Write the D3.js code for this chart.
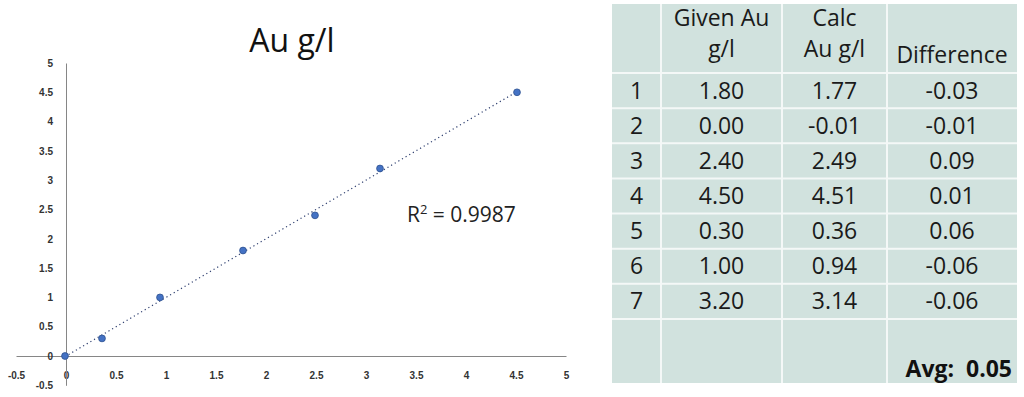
<!DOCTYPE html>
<html>
<head>
<meta charset="utf-8">
<script src="https://cdn.jsdelivr.net/npm/d3@7"></script>
<style>
  body { margin: 0; background: #fff; }
  svg { display: block; }
</style>
</head>
<body>
<div id="chart"></div>
<script>
// Data
const rowIds = ["1", "2", "3", "4", "5", "6", "7"];
const givenAu = [1.80, 0.00, 2.40, 4.50, 0.30, 1.00, 3.20];
const calcAu = [1.77, -0.01, 2.49, 4.51, 0.36, 0.94, 3.14];
const difference = [-0.03, -0.01, 0.09, 0.01, 0.06, -0.06, -0.06];
const headerLines = [[""], ["Given Au", "g/l"], ["Calc", "Au g/l"], ["Difference"]];
const avgLabel = "Avg:  0.05";
const xTicks = [-0.5, 0, 0.5, 1, 1.5, 2, 2.5, 3, 3.5, 4, 4.5, 5];
const yTicks = [-0.5, 0, 0.5, 1, 1.5, 2, 2.5, 3, 3.5, 4, 4.5, 5];
const chartTitle = "Au g/l";
const rSquared = "0.9987";

const width = 1024;
const height = 397;

const svg = d3.select("#chart").append("svg")
  .attr("width", width)
  .attr("height", height);

// Scatter chart
const x = d3.scaleLinear().domain([-0.5, 5]).range([16, 566]);
const y = d3.scaleLinear().domain([-0.5, 5]).range([385.3, 63]);
const fmt = d => String(d);

const xAxis = svg.append("g")
  .attr("transform", `translate(0,${y(0)})`)
  .call(d3.axisBottom(x).tickValues(xTicks).tickFormat(fmt).tickSize(0).tickPadding(16));

const yAxis = svg.append("g")
  .attr("transform", `translate(${x(0)},0)`)
  .call(d3.axisLeft(y).tickValues(yTicks).tickFormat(fmt).tickSize(0).tickPadding(13));

[xAxis, yAxis].forEach(g => {
  g.select(".domain").attr("stroke", "#868686").attr("stroke-width", 1);
  g.selectAll("text")
    .attr("fill", "#333")
    .style("font-family", "'Liberation Sans', Arial, sans-serif")
    .style("font-size", "10px")
    .style("font-weight", "bold");
});

svg.append("text")
  .attr("x", 292)
  .attr("y", 52)
  .attr("text-anchor", "middle")
  .attr("fill", "#111")
  .style("font-family", "'Open Sans', sans-serif")
  .style("font-size", "32px")
  .text(chartTitle);

// Linear trendline (least squares)
const pts = calcAu.map((c, i) => [c, givenAu[i]]);
const mx = d3.mean(calcAu), my = d3.mean(givenAu);
const slope = d3.sum(pts, p => (p[0] - mx) * (p[1] - my)) / d3.sum(pts, p => (p[0] - mx) ** 2);
const icpt = my - slope * mx;
const [x0, x1] = d3.extent(calcAu);

svg.append("line")
  .attr("x1", x(x0)).attr("y1", y(icpt + slope * x0))
  .attr("x2", x(x1)).attr("y2", y(icpt + slope * x1))
  .attr("stroke", "#2c3d6e")
  .attr("stroke-width", 1.2)
  .attr("stroke-dasharray", "1.2,3");

svg.selectAll("circle.pt")
  .data(pts)
  .join("circle")
  .attr("class", "pt")
  .attr("cx", d => x(d[0]))
  .attr("cy", d => y(d[1]))
  .attr("r", 3.4)
  .attr("fill", "#4472c4")
  .attr("stroke", "#2f528f")
  .attr("stroke-width", 0.8);

const rText = svg.append("text")
  .attr("x", 407)
  .attr("y", 222)
  .attr("fill", "#222")
  .style("font-family", "'Open Sans', sans-serif")
  .style("font-size", "21px");
rText.append("tspan").text("R");
rText.append("tspan").attr("dy", -8).style("font-size", "13px").text("2");
rText.append("tspan").attr("dy", 8).text(" = " + rSquared);

// Table
const colEdges = [612, 661, 782, 887, 1017];
const rowEdges = [4, 73];
const rowH = (319 - 73) / rowIds.length;
rowIds.forEach((_, i) => rowEdges.push(73 + rowH * (i + 1)));
rowEdges.push(383);

const table = svg.append("g");
table.append("rect")
  .attr("x", colEdges[0]).attr("y", rowEdges[0])
  .attr("width", colEdges[4] - colEdges[0])
  .attr("height", rowEdges[rowEdges.length - 1] - rowEdges[0])
  .attr("fill", "#d1e2de");

table.selectAll("line.v")
  .data(colEdges.slice(1, -1))
  .join("line")
  .attr("x1", d => d).attr("x2", d => d)
  .attr("y1", rowEdges[0]).attr("y2", rowEdges[rowEdges.length - 1])
  .attr("stroke", "#f4f8f7").attr("stroke-width", 2);

table.selectAll("line.h")
  .data(rowEdges.slice(1, -1))
  .join("line")
  .attr("x1", colEdges[0]).attr("x2", colEdges[4])
  .attr("y1", d => d).attr("y2", d => d)
  .attr("stroke", "#f4f8f7").attr("stroke-width", 2);

const colCenter = i => (colEdges[i] + colEdges[i + 1]) / 2;
const cellFont = (t, size) => t
  .attr("text-anchor", "middle")
  .attr("fill", "#1a1a1a")
  .style("font-family", "'Open Sans', sans-serif")
  .style("font-size", size + "px");

// header
headerLines.forEach((lines, c) => {
  lines.forEach((ln, k) => {
    const yy = lines.length === 2 ? (k === 0 ? 26 : 57) : 63;
    table.append("text").call(cellFont, 23)
      .attr("x", colCenter(c)).attr("y", yy).text(ln);
  });
});

// body rows
const body = rowIds.map((id, i) => [id, givenAu[i].toFixed(2), calcAu[i].toFixed(2), difference[i].toFixed(2)]);
body.forEach((row, r) => {
  const cy = (rowEdges[r + 1] + rowEdges[r + 2]) / 2;
  row.forEach((v, c) => {
    table.append("text").call(cellFont, 23)
      .attr("x", colCenter(c)).attr("y", cy + 8).text(v);
  });
});

table.append("text")
  .attr("x", 1012).attr("y", 377)
  .attr("text-anchor", "end")
  .attr("fill", "#111")
  .style("font-family", "'Open Sans', sans-serif")
  .style("font-size", "23px")
  .style("font-weight", "bold")
  .style("white-space", "pre")
  .attr("xml:space", "preserve")
  .text(avgLabel);
</script>
</body>
</html>
